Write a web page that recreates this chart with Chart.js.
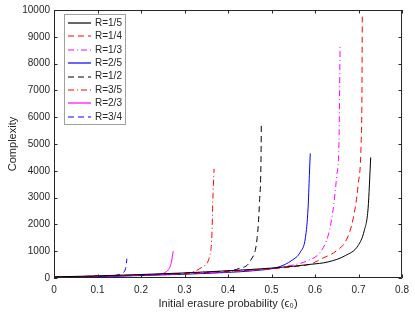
<!DOCTYPE html>
<html>
<head>
<meta charset="utf-8">
<script src="https://cdn.jsdelivr.net/npm/chart.js@4/dist/chart.umd.min.js"></script>
<style>
  html, body { margin: 0; padding: 0; background: #fff; }
  #wrap { width: 415px; height: 317px; }
</style>
</head>
<body>
<div id="wrap"><canvas id="c"></canvas></div>
<script>
// values (epsilon_0, complexity)
const labels = ['R=1/5', 'R=1/4', 'R=1/3', 'R=2/5', 'R=1/2', 'R=3/5', 'R=2/3', 'R=3/4'];

const eps15 = [0, 0.1, 0.2, 0.3, 0.4, 0.5, 0.55, 0.59, 0.63, 0.67, 0.699, 0.713, 0.722, 0.728];
const cpx15 = [40, 80, 130, 190, 270, 370, 440, 510, 600, 840, 1210, 1760, 2610, 4500];

const eps14 = [0, 0.1, 0.2, 0.3, 0.4, 0.5, 0.55, 0.59, 0.615, 0.65, 0.673, 0.688, 0.699, 0.706, 0.7078, 0.7086];
const cpx14 = [35, 70, 115, 170, 245, 340, 420, 520, 720, 1025, 1450, 2245, 3470, 5055, 6800, 9800];

const eps13 = [0, 0.1, 0.2, 0.3, 0.4, 0.5, 0.547, 0.585, 0.612, 0.631, 0.642, 0.65, 0.655, 0.6576];
const cpx13 = [35, 65, 105, 160, 230, 360, 475, 660, 965, 1635, 2610, 3835, 5055, 8718];

const eps25 = [0, 0.1, 0.2, 0.3, 0.4, 0.45, 0.517, 0.547, 0.566, 0.578, 0.584, 0.587, 0.589];
const cpx25 = [30, 55, 90, 140, 210, 260, 415, 660, 965, 1515, 2610, 3835, 4650];

const eps12 = [0, 0.1, 0.2, 0.3, 0.379, 0.425, 0.452, 0.467, 0.4724, 0.476, 0.4765];
const cpx12 = [35, 65, 110, 160, 230, 355, 660, 1513, 2857, 4690, 5810];

const eps35 = [0, 0.1, 0.2, 0.26, 0.318, 0.341, 0.357, 0.363, 0.365, 0.368];
const cpx35 = [35, 65, 110, 150, 230, 414, 780, 1637, 2857, 4077];

const eps23 = [0, 0.1, 0.2, 0.235, 0.258, 0.269, 0.274];
const cpx23 = [35, 65, 100, 135, 231, 538, 1000];

const eps34 = [0, 0.05, 0.1, 0.136, 0.155, 0.1646, 0.1676];
const cpx34 = [30, 45, 60, 85, 172, 355, 720];

const xTicks = [0, 0.1, 0.2, 0.3, 0.4, 0.5, 0.6, 0.7, 0.8];
const yTicks = [0, 1000, 2000, 3000, 4000, 5000, 6000, 7000, 8000, 9000, 10000];

const DASH = [6, 4];
const DASHDOT = [6, 3, 1, 3];

function pts(xs, ys) {
    return xs.map((x, i) => ({ x: x, y: ys[i] }));
}

function series(label, xs, ys, color, dash) {
    return {
        label: label,
        data: pts(xs, ys),
        borderColor: color,
        backgroundColor: color,
        borderWidth: 1,
        borderDash: dash,
        pointRadius: 0,
        showLine: true,
        fill: false,
        cubicInterpolationMode: 'monotone'
    };
}

const AXIS = '#262626';
const FONT = '"Liberation Sans", Arial, sans-serif';

// box + inward ticks on all four sides, like the original figure
const framePlugin = {
    id: 'frame',
    afterDraw(chart) {
        const { ctx, chartArea: a, scales } = chart;
        ctx.save();
        ctx.strokeStyle = AXIS;
        ctx.lineWidth = 1;
        ctx.beginPath();
        ctx.rect(a.left + 0.5, a.top + 0.5, a.right - a.left - 1, a.bottom - a.top - 1);
        ctx.stroke();
        const tl = 3.5;
        ctx.beginPath();
        xTicks.forEach(v => {
            const px = Math.round(scales.x.getPixelForValue(v)) + 0.5;
            ctx.moveTo(px, a.bottom); ctx.lineTo(px, a.bottom - tl);
            ctx.moveTo(px, a.top); ctx.lineTo(px, a.top + tl);
        });
        yTicks.forEach(v => {
            const py = Math.round(scales.y.getPixelForValue(v)) + 0.5;
            ctx.moveTo(a.left, py); ctx.lineTo(a.left + tl, py);
            ctx.moveTo(a.right, py); ctx.lineTo(a.right - tl, py);
        });
        ctx.stroke();

        // legend, top-left inside the axes
        const lx = 64, ly = 14, lw = 61, lh = 110;
        ctx.fillStyle = '#fff';
        ctx.fillRect(lx, ly, lw, lh);
        ctx.strokeStyle = '#a0a0a0';
        ctx.strokeRect(lx + 0.5, ly + 0.5, lw, lh);
        ctx.font = '10px ' + FONT;
        ctx.textBaseline = 'middle';
        chart.data.datasets.forEach((ds, i) => {
            const y = ly + 9 + i * 13.4;
            ctx.strokeStyle = ds.borderColor;
            ctx.lineWidth = 1.2;
            ctx.setLineDash(ds.borderDash || []);
            ctx.beginPath();
            ctx.moveTo(lx + 4, Math.round(y));
            ctx.lineTo(lx + 27, Math.round(y));
            ctx.stroke();
            ctx.setLineDash([]);
            ctx.fillStyle = AXIS;
            ctx.fillText(ds.label, lx + 31, y);
        });
        ctx.restore();
    }
};

new Chart(document.getElementById('c'), {
    type: 'scatter',
    data: {
        datasets: [
            series(labels[0], eps15, cpx15, '#000000', []),
            series(labels[1], eps14, cpx14, '#ff0000', DASH),
            series(labels[2], eps13, cpx13, '#ff00ff', DASHDOT),
            series(labels[3], eps25, cpx25, '#0000ff', []),
            series(labels[4], eps12, cpx12, '#000000', DASH),
            series(labels[5], eps35, cpx35, '#ff0000', DASHDOT),
            series(labels[6], eps23, cpx23, '#ff00ff', []),
            series(labels[7], eps34, cpx34, '#0000ff', DASH)
        ]
    },
    options: {
        responsive: true, maintainAspectRatio: false, animation: false,
        layout: { padding: { top: 5, right: 11, left: 0, bottom: 0 } },
        plugins: { legend: { display: false }, tooltip: { enabled: false } },
        scales: {
            x: {
                type: 'linear', min: 0, max: 0.8,
                afterBuildTicks: s => { s.ticks = xTicks.map(v => ({ value: v })); },
                afterFit: s => { s.height = 39; },
                grid: { display: false, drawTicks: false },
                border: { display: false },
                ticks: { color: AXIS, padding: 6, maxRotation: 0, font: { family: FONT, size: 10 },
                         callback: v => String(+v.toFixed(1)) },
                title: { display: true, text: 'Initial erasure probability (ϵ₀)', color: AXIS,
                         font: { family: FONT, size: 11 }, padding: { top: 0, bottom: 6 } }
            },
            y: {
                type: 'linear', min: 0, max: 10000,
                afterBuildTicks: s => { s.ticks = yTicks.map(v => ({ value: v })); },
                afterFit: s => { s.width = 54; },
                grid: { display: false, drawTicks: false },
                border: { display: false },
                ticks: { color: AXIS, padding: 4, font: { family: FONT, size: 10 },
                         callback: v => String(v) },
                title: { display: true, text: 'Complexity', color: AXIS,
                         font: { family: FONT, size: 11 }, padding: { top: 6, bottom: 6 } }
            }
        }
    },
    plugins: [framePlugin]
});
</script>
</body>
</html>
